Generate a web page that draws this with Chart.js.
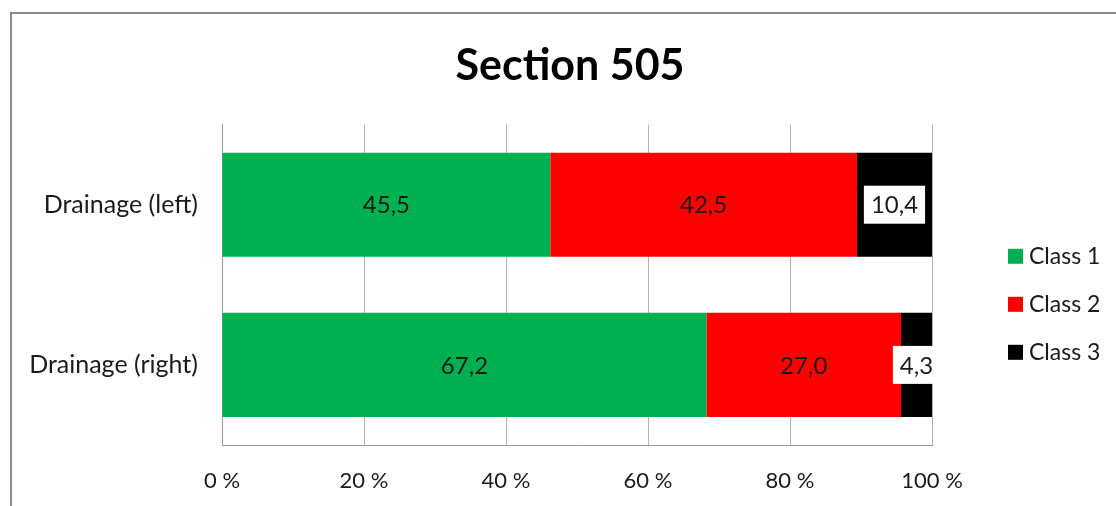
<!DOCTYPE html>
<html>
<head>
<meta charset="utf-8">
<script src="https://cdn.jsdelivr.net/npm/chart.js@4.4.1/dist/chart.umd.min.js"></script>
<style>
    html, body { margin: 0; padding: 0; background: #fff; }
    #wrap { position: relative; width: 1116px; height: 506px; overflow: hidden; }
    #frame {
        position: absolute; left: 10px; top: 12px; width: 1200px; height: 600px;
        border-left: 2px solid #8c8c8c; border-top: 2px solid #8c8c8c;
    }
    #chart { position: absolute; left: 0; top: 0; }
</style>
</head>
<body>
<div id="wrap">
    <div id="frame"></div>
    <canvas id="chart" width="1116" height="506"></canvas>
</div>
<script>
// Chart data
const categories = ['Drainage (left)', 'Drainage (right)'];
const class1 = [45.5, 67.2];
const class2 = [42.5, 27.0];
const class3 = [10.4, 4.3];
const seriesNames = ['Class 1', 'Class 2', 'Class 3'];
const seriesColors = ['#00b050', '#ff0000', '#000000'];
const xTicks = [0, 20, 40, 60, 80, 100];

const FONT = 'Lato, "Open Sans", sans-serif';
const TEXT = '#1a1a1a';

// 100% stacked: each bar is scaled to its own total
const raw = [class1, class2, class3];
const totals = categories.map((c, i) => class1[i] + class2[i] + class3[i]);

const datasets = raw.map((values, s) => ({
    label: seriesNames[s],
    data: values.map((v, i) => v / totals[i] * 100),
    rawValues: values,
    backgroundColor: seriesColors[s],
    borderWidth: 0,
    barPercentage: 0.65,
    categoryPercentage: 1.0
}));

// Draw the value labels in the middle of each segment
const segmentLabels = {
    id: 'segmentLabels',
    afterDatasetsDraw(chart) {
        const ctx = chart.ctx;
        ctx.save();
        ctx.font = '24px ' + FONT;
        ctx.textAlign = 'center';
        ctx.textBaseline = 'middle';
        chart.data.datasets.forEach((ds, s) => {
            const meta = chart.getDatasetMeta(s);
            meta.data.forEach((bar, i) => {
                const text = ds.rawValues[i].toFixed(1).replace('.', ',');
                const x = (bar.x + bar.base) / 2;
                const y = bar.y;
                if (s === 2) {
                    const w = ctx.measureText(text).width + 14;
                    ctx.fillStyle = '#ffffff';
                    ctx.fillRect(x - w / 2, y - 19, w, 38);
                }
                ctx.fillStyle = TEXT;
                ctx.fillText(text, x, y + 1);
            });
        });
        ctx.restore();
    }
};

// Legend to the right of the plot, like the Excel one
const sideLegend = {
    id: 'sideLegend',
    afterDraw(chart) {
        const ctx = chart.ctx;
        const area = chart.chartArea;
        const n = chart.data.datasets.length;
        const x = area.right + 76;
        const mid = (area.top + area.bottom) / 2 + 19;
        ctx.save();
        ctx.font = '23px ' + FONT;
        ctx.textAlign = 'left';
        ctx.textBaseline = 'middle';
        chart.data.datasets.forEach((ds, i) => {
            const y = mid + (i - (n - 1) / 2) * 48;
            ctx.fillStyle = ds.backgroundColor;
            ctx.fillRect(x, y - 7, 15, 15);
            ctx.fillStyle = TEXT;
            ctx.fillText(ds.label, x + 21, y + 1);
        });
        ctx.restore();
    }
};

const ctx = document.getElementById('chart').getContext('2d');
window.sectionChart = new Chart(ctx, {
    type: 'bar',
    data: { labels: categories, datasets: datasets },
    options: {
        indexAxis: 'y',
        responsive: false,
        animation: false,
        layout: { padding: { left: 24, right: 0, top: 0, bottom: 0 } },
        plugins: {
            title: {
                display: true,
                text: 'Section 505',
                color: '#000',
                font: { family: FONT, size: 43, weight: 'bold' },
                padding: { top: 40, bottom: 33 }
            },
            legend: { display: false },
            tooltip: { enabled: false }
        },
        scales: {
            x: {
                stacked: true,
                min: 0,
                max: 100,
                afterBuildTicks(scale) {
                    scale.ticks = xTicks.map(v => ({ value: v }));
                },
                afterFit(scale) { scale.height = 61; },
                ticks: {
                    color: TEXT,
                    font: { family: FONT, size: 22 },
                    padding: 23,
                    callback: v => v + ' %'
                },
                grid: { color: '#b4b4b4', drawTicks: false },
                border: { color: '#9a9a9a' }
            },
            y: {
                stacked: true,
                afterFit(scale) { scale.width = 198; },
                ticks: {
                    color: TEXT,
                    font: { family: FONT, size: 25 },
                    padding: 24
                },
                grid: { display: false, drawTicks: false },
                border: { color: '#9a9a9a' }
            },
            // empty axis that keeps room for the legend on the right
            gap: {
                type: 'linear',
                axis: 'y',
                position: 'right',
                afterFit(scale) { scale.width = 184; },
                ticks: { display: false },
                grid: { display: false, drawTicks: false },
                border: { display: false }
            }
        }
    },
    plugins: [segmentLabels, sideLegend]
});
</script>
</body>
</html>
